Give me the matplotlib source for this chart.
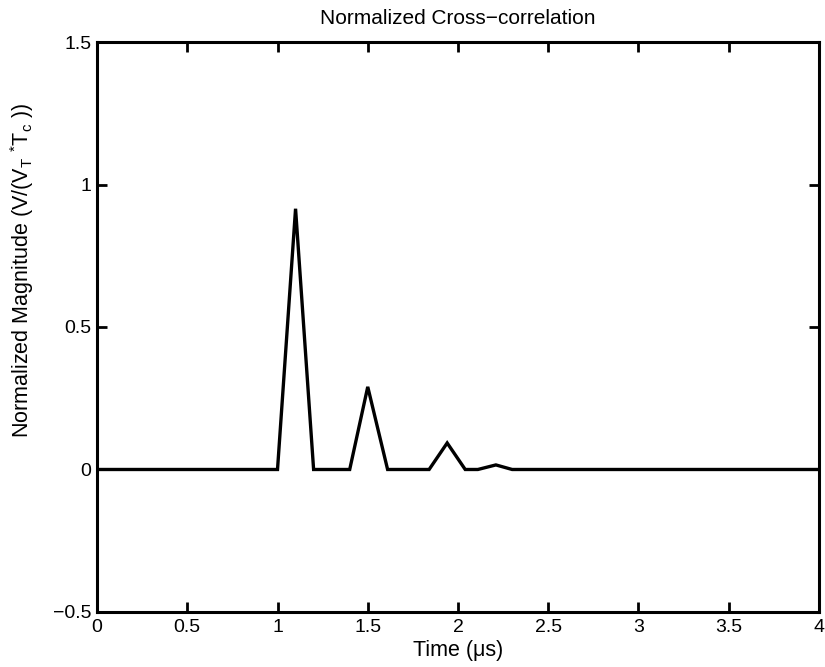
import matplotlib
matplotlib.use("Agg")
import matplotlib.pyplot as plt

plt.rcParams['font.family'] = ['Liberation Sans', 'DejaVu Sans']
plt.rcParams['mathtext.default'] = 'regular'

# data
time_us = [0.0, 1.00, 1.10, 1.20, 1.40, 1.50, 1.61, 1.84, 1.94, 2.04, 2.11, 2.21, 2.30, 4.0]
magnitude = [0.0, 0.0, 0.915, 0.0, 0.0, 0.29, 0.0, 0.0, 0.093, 0.0, 0.0, 0.016, 0.0, 0.0]
xticks = [0, 0.5, 1, 1.5, 2, 2.5, 3, 3.5, 4]
xticklabels = ['0', '0.5', '1', '1.5', '2', '2.5', '3', '3.5', '4']
yticks = [-0.5, 0, 0.5, 1, 1.5]
yticklabels = ['\u22120.5', '0', '0.5', '1', '1.5']

fig = plt.figure(figsize=(8.25, 6.67), dpi=100)
ax = fig.add_axes([0.1176, 0.0825, 0.8751, 0.8545])
ax.plot(time_us, magnitude, color='black', linewidth=2.4, solid_joinstyle='miter')
ax.set_xlim(0, 4)
ax.set_ylim(-0.5, 1.5)
ax.set_xticks(xticks)
ax.set_xticklabels(xticklabels)
ax.set_yticks(yticks)
ax.set_yticklabels(yticklabels)
ax.tick_params(direction='in', top=True, right=True, length=7, width=2, labelsize=14)
ax.tick_params(axis='x', pad=5)
ax.tick_params(axis='y', pad=4)
for s in ax.spines.values():
    s.set_linewidth(2.2)
ax.set_title('Normalized Cross\u2212correlation', fontsize=15, pad=13)
ax.set_xlabel('Time (\u03bcs)', fontsize=15.5, labelpad=3)
ax.set_ylabel('Normalized Magnitude (V/(V$_{T}$ $^{*}$T$_{c}$ ))', fontsize=15.5)
ax.yaxis.set_label_coords(-0.085, 0.6)
fig.savefig('out.png', dpi=100)
